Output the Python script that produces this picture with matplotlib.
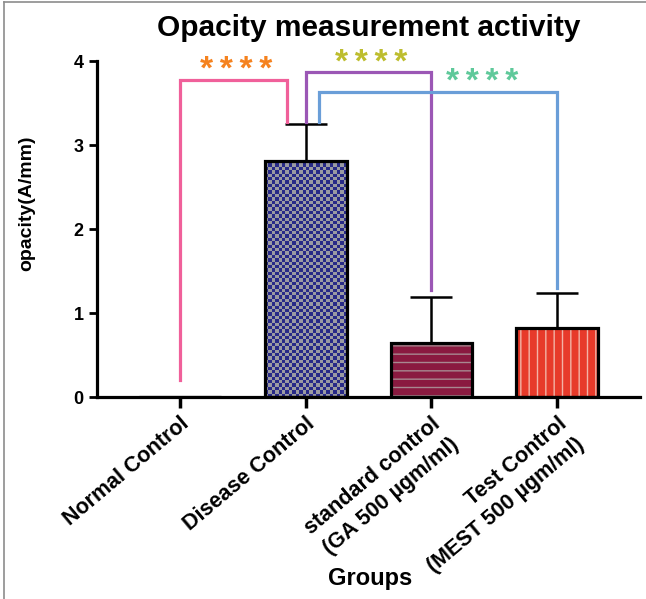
import numpy as np
import matplotlib
matplotlib.use('Agg')
import matplotlib.pyplot as plt
from matplotlib.lines import Line2D
from matplotlib.colors import ListedColormap

plt.rcParams['font.family'] = ['Liberation Sans', 'DejaVu Sans']
plt.rcParams['font.weight'] = 'bold'

# data
groups = ['Normal Control', 'Disease Control',
          'standard control\n(GA 500 \u00b5gm/ml)',
          'Test Control\n(MEST 500 \u00b5gm/ml)']
means = [0.0, 2.81, 0.65, 0.82]
sd_upper = [0.0, 0.44, 0.54, 0.42]

# significance brackets: (x_left, x_right, y_top, y_left_end, y_right_end)
brackets = [(0.0, 0.85, 3.78, 0.20, 3.28),
            (1.00, 2.00, 3.87, 3.28, 1.27),
            (1.11, 3.00, 3.63, 3.28, 1.30)]
bracket_colors = ['#F0609A', '#9B57B5', '#6A9ED8']
star_text = ['*\u2009*\u2009*\u2009*'] * 3
star_x = [0.45, 1.52, 2.40]
star_y = [3.89, 3.97, 3.75]
star_colors = ['#F5821F', '#BDBD2E', '#5FC99A']

fig = plt.figure(figsize=(6.46, 5.99), dpi=100)
ax = fig.add_axes([0.150, 0.337, 0.841, 0.561])

x = np.arange(len(groups))
width = 0.65
bars = ax.bar(x, means, width=width, color='none', edgecolor='black',
              linewidth=2.3, zorder=4)

# Disease control: checkerboard fill clipped to the bar
b = bars[1]
bx, by, bw, bh = b.get_x(), b.get_y(), b.get_width(), b.get_height()
nx, ny = 24, 70
board = (np.add.outer(np.arange(ny), np.arange(nx)) % 2).astype(float)
im = ax.imshow(board, extent=(bx, bx + bw, by, by + bh), aspect='auto',
               interpolation='nearest', cmap=ListedColormap(['#282A88', '#9A9AA2']),
               zorder=2)
im.set_clip_path(b)

# standard control: maroon with grey horizontal lines
plt.rcParams['hatch.linewidth'] = 1.0
ax.bar(x[2], means[2], width=width, color='#8A1A40', edgecolor='#A88890',
       hatch='--', linewidth=0, zorder=2)
# test control: red with light vertical lines
ax.bar(x[3], means[3], width=width, color='#E73A2A', edgecolor='#F2B3A6',
       hatch='||', linewidth=0, zorder=2)

# upper error bars
ax.errorbar(x, means, yerr=[np.zeros(len(means)), sd_upper], fmt='none',
            ecolor='black', elinewidth=1.8, capsize=15, capthick=1.8, zorder=3)

for (x1, x2, yt, y1, y2), c in zip(brackets, bracket_colors):
    ax.plot([x1, x1, x2, x2], [y1, yt, yt, y2], color=c, linewidth=2.3,
            clip_on=False, zorder=5, solid_joinstyle='miter')

for t, sx, sy, c in zip(star_text, star_x, star_y, star_colors):
    ax.text(sx, sy, t, color=c, fontsize=24, fontweight='bold',
            ha='center', va='center', clip_on=False)

ax.set_xlim(-0.66, 3.66)
ax.set_ylim(0, 4)
ax.set_yticks([0, 1, 2, 3, 4])
ax.set_xticks(x)
ax.set_xticklabels(groups, rotation=40, ha='right', rotation_mode='anchor',
                   fontsize=15.5, fontweight='bold', linespacing=1.4)
ax.tick_params(axis='y', labelsize=13, width=2, length=6, direction='out')
ax.tick_params(axis='x', width=2.5, length=8, direction='out')
for lbl in ax.get_yticklabels():
    lbl.set_fontweight('bold')

ax.spines['top'].set_visible(False)
ax.spines['right'].set_visible(False)
ax.spines['left'].set_linewidth(2.3)
ax.spines['bottom'].set_linewidth(2.3)

ax.set_ylabel('opacity(A/mm)', fontsize=14, fontweight='bold')
ax.yaxis.set_label_coords(-0.114, 0.577)
ax.set_xlabel('Groups', fontsize=17, fontweight='bold')
ax.xaxis.set_label_coords(0.503, -0.505)
ax.set_title('Opacity measurement activity', fontsize=21.5, fontweight='bold', pad=18)

# thin frame around figure (left and top edges visible)
fig.add_artist(Line2D([0.006, 0.006], [0.0, 0.997], color='#8C8C8C', linewidth=1.2))
fig.add_artist(Line2D([0.006, 1.0], [0.997, 0.997], color='#8C8C8C', linewidth=1.2))

fig.savefig('out.png', dpi=100)
